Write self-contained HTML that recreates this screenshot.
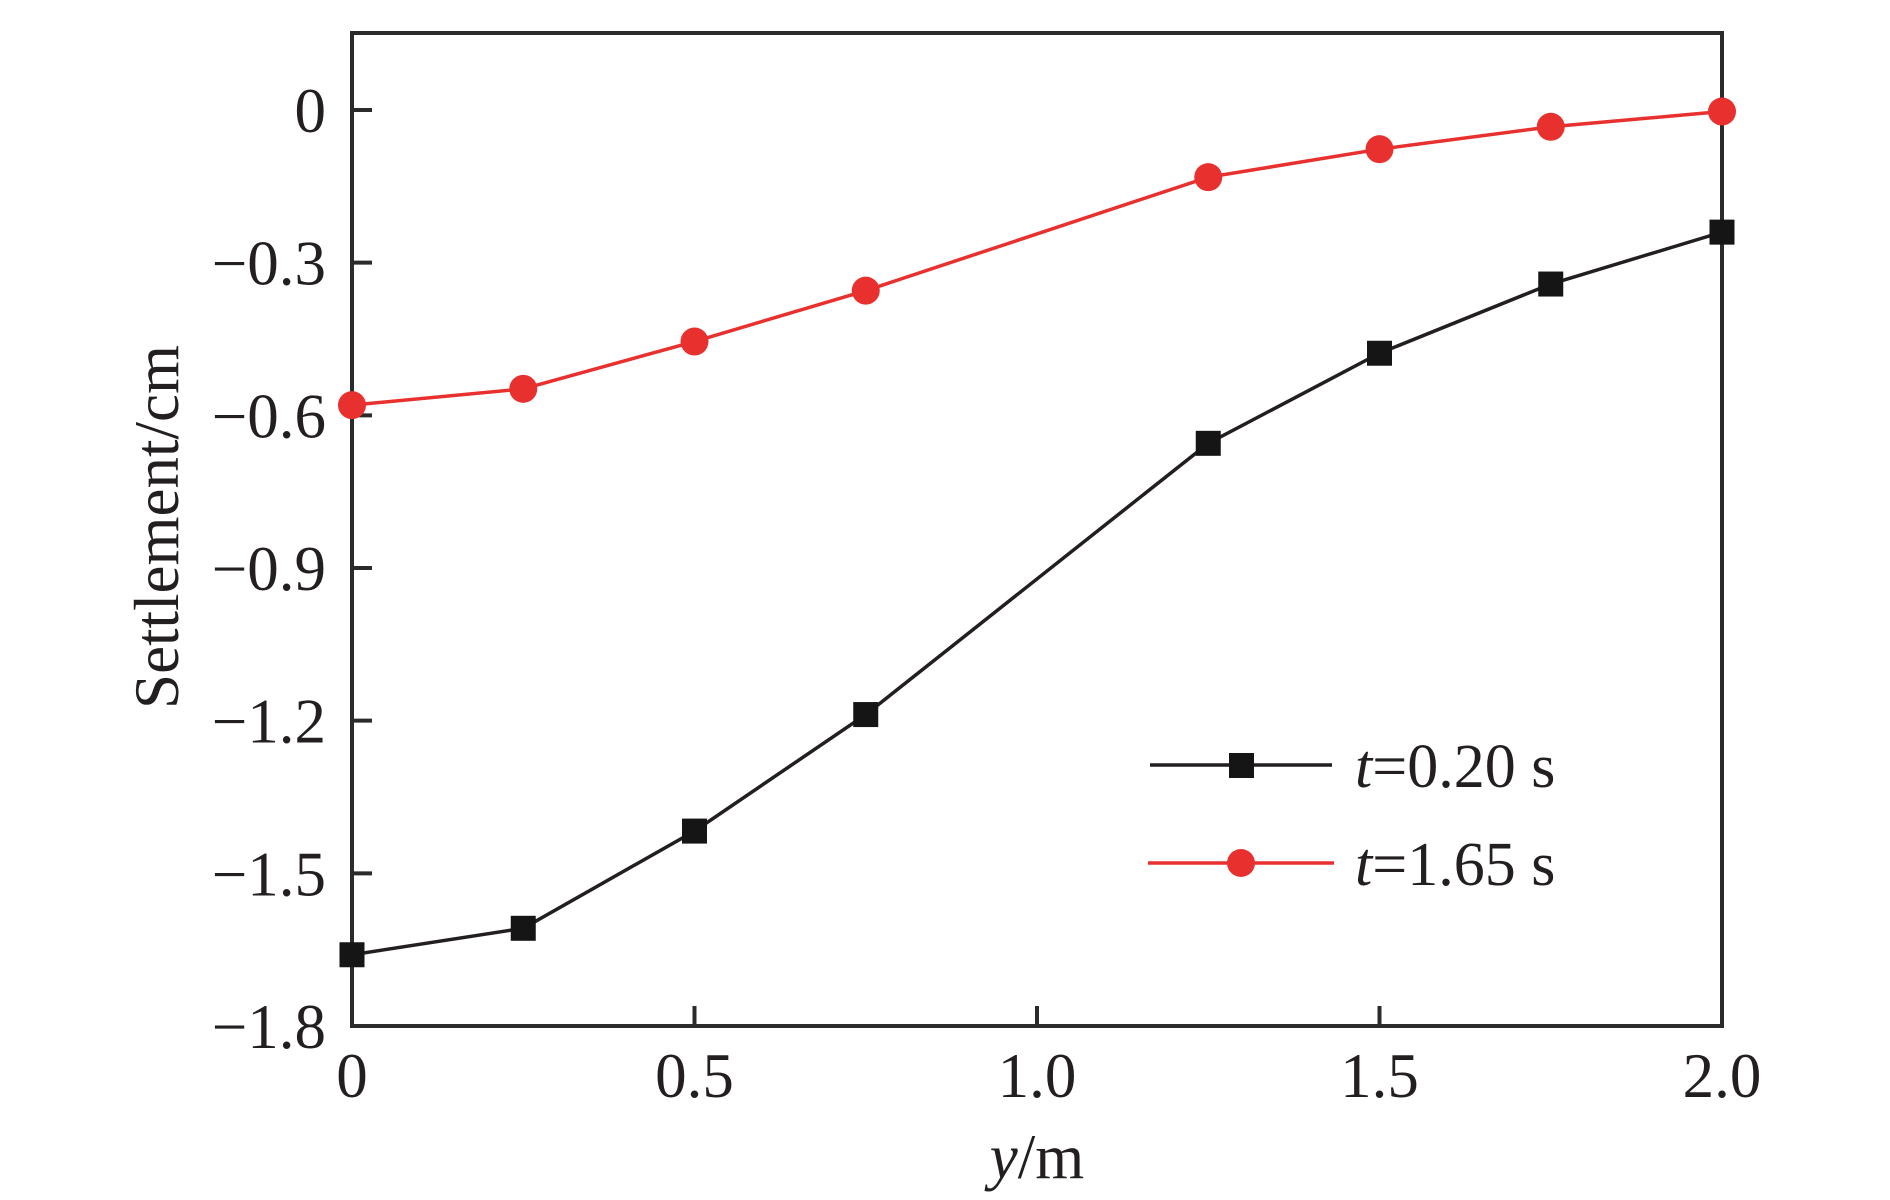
<!DOCTYPE html>
<html>
<head>
<meta charset="utf-8">
<style>
  html, body { margin: 0; padding: 0; background: #fff; }
  svg { display: block; }
  text { font-family: "Liberation Serif", "DejaVu Serif", serif; fill: #231f20; }
</style>
</head>
<body>
<svg id="chart" width="1890" height="1200" viewBox="0 0 1890 1200" xmlns="http://www.w3.org/2000/svg">
  <g id="grid-ticks"></g>
  <g id="tick-labels"></g>
  <rect x="352" y="33" width="1370" height="993" fill="none" stroke="#2b2b2b" stroke-width="4"/>
  <g id="series"></g>
  <text transform="translate(178,527) rotate(-90)" text-anchor="middle" font-size="63">Settlement/cm</text>
  <text x="1037" y="1178" text-anchor="middle" font-size="63"><tspan font-style="italic">y</tspan>/m</text>
  <g>
    <g>
      <line x1="1150" y1="765" x2="1332" y2="765" stroke="#231f20" stroke-width="3.5"/>
      <rect x="1229" y="753" width="25" height="25" fill="#151515"/>
      <text x="1355" y="787" font-size="62"><tspan font-style="italic">t</tspan>=0.20 s</text>
    </g>
    <g>
      <line x1="1148" y1="863" x2="1334" y2="863" stroke="#e8312f" stroke-width="3.5"/>
      <circle cx="1241" cy="863" r="14" fill="#e8312f"/>
      <text x="1355" y="885" font-size="62"><tspan font-style="italic">t</tspan>=1.65 s</text>
    </g>
  </g>
</svg>
<script>
const xValues = [0, 0.25, 0.5, 0.75, 1.25, 1.5, 1.75, 2.0];
const seriesT020 = [-1.66, -1.608, -1.417, -1.188, -0.655, -0.478, -0.342, -0.24];
const seriesT165 = [-0.58, -0.548, -0.455, -0.355, -0.132, -0.077, -0.033, -0.003];
const xTicks = [0, 0.5, 1.0, 1.5, 2.0];
const xTickLabels = ["0", "0.5", "1.0", "1.5", "2.0"];
const yTicks = [0, -0.3, -0.6, -0.9, -1.2, -1.5, -1.8];
const yTickLabels = ["0", "\u22120.3", "\u22120.6", "\u22120.9", "\u22121.2", "\u22121.5", "\u22121.8"];

const NS = "http://www.w3.org/2000/svg";
const X0 = 352, X1 = 1722, Y0 = 1026, YTOP = 33;
function sx(v) { return X0 + (v - 0) / (2.0 - 0) * (X1 - X0); }
function sy(v) { return 110 + (0 - v) / 1.8 * (Y0 - 110); }
function mk(tag, attrs) { const e = document.createElementNS(NS, tag); for (const k in attrs) e.setAttribute(k, attrs[k]); return e; }

const ticks = document.getElementById('grid-ticks');
const labels = document.getElementById('tick-labels');
xTicks.forEach((v, i) => {
  const t = mk('line', {x1: sx(v), x2: sx(v), y1: Y0, y2: Y0 - 20, stroke: '#2b2b2b', 'stroke-width': 4});
  
  
  ticks.appendChild(t);
  const l = mk('text', {x: sx(v), y: 1097, 'text-anchor': 'middle', 'font-size': 63});
  l.textContent = xTickLabels[i];
  
  
  labels.appendChild(l);
});
yTicks.forEach((v, i) => {
  const t = mk('line', {x1: X0, x2: X0 + 20, y1: sy(v), y2: sy(v), stroke: '#2b2b2b', 'stroke-width': 4});
  
  
  ticks.appendChild(t);
  const l = mk('text', {x: 326, y: sy(v) + 22, 'text-anchor': 'end', 'font-size': 63});
  l.textContent = yTickLabels[i];
  
  
  labels.appendChild(l);
});

const seriesG = document.getElementById('series');
function drawSeries(vals, color, shape, name) {
  const g = mk('g', {});
  
  
  const pts = vals.map((v, i) => sx(xValues[i]) + ',' + sy(v)).join(' ');
  const pl = mk('polyline', {points: pts, fill: 'none', stroke: color, 'stroke-width': 3.5});
  
  
  g.appendChild(pl);
  vals.forEach((v, i) => {
    let m;
    if (shape === 'square') m = mk('rect', {x: sx(xValues[i]) - 12.5, y: sy(v) - 12.5, width: 25, height: 25, fill: '#151515'});
    else m = mk('circle', {cx: sx(xValues[i]), cy: sy(v), r: 14, fill: color});
    
    
    g.appendChild(m);
  });
  seriesG.appendChild(g);
}
drawSeries(seriesT020, '#231f20', 'square', 'series-t020');
drawSeries(seriesT165, '#e8312f', 'circle', 'series-t165');
</script>
</body>
</html>
